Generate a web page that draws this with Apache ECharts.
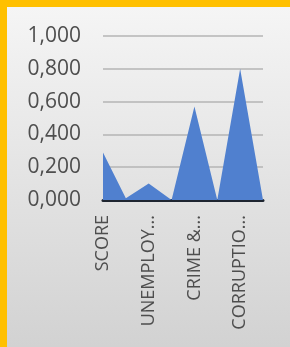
<!DOCTYPE html>
<html lang="en">
<head>
    <meta charset="UTF-8">
    <title>Area chart</title>
    <script src="https://cdn.jsdelivr.net/npm/echarts@6/dist/echarts.min.js"></script>
    <style>
        body { margin: 0; }
        #frame { position: relative; width: 290px; height: 347px; background: #ffc000; overflow: hidden; }
        #panel { position: absolute; left: 7px; top: 7px; right: 0; bottom: 0;
                 background: linear-gradient(#f5f5f5, #d2d2d2); }
        #main { position: absolute; left: 0; top: 0; width: 290px; height: 347px; }
    </style>
</head>
<body>
<div id="frame">
    <div id="panel"></div>
    <div id="main"></div>
</div>
<script type="text/javascript">
    // categories (only every other one is labelled in the original)
    var categories = ['SCORE', '', 'UNEMPLOY...', '', 'CRIME &...', '', 'CORRUPTIO...', ''];
    var values = [0.29, 0.01, 0.10, 0.0, 0.57, 0.0, 0.80, 0.0];
    var yTicks = [0, 0.2, 0.4, 0.6, 0.8, 1.0];

    var myChart = echarts.init(document.getElementById('main'));

    var option = {
        animation: false,
        grid: { left: 103, right: 27, top: 36, bottom: 147 },
        xAxis: {
            type: 'category',
            data: categories,
            boundaryGap: false,
            axisLine: { lineStyle: { color: '#1e2530', width: 3 } },
            axisTick: { show: false },
            axisLabel: {
                rotate: 90,
                interval: 0,
                margin: 15,
                color: '#4e4e4e',
                fontFamily: 'Open Sans',
                fontSize: 18
            }
        },
        yAxis: {
            type: 'value',
            min: yTicks[0],
            max: yTicks[yTicks.length - 1],
            interval: 0.2,
            axisLine: { show: false },
            axisTick: { show: false },
            splitLine: { lineStyle: { color: '#b4b4b4', width: 1.5 } },
            axisLabel: {
                margin: 22,
                color: '#4e4e4e',
                fontFamily: 'Open Sans',
                fontSize: 21,
                formatter: function (v) { return v.toFixed(3).replace('.', ','); }
            }
        },
        series: [{
            type: 'line',
            data: values,
            symbol: 'none',
            lineStyle: { width: 0 },
            areaStyle: { color: '#5080cf', opacity: 1 }
        }]
    };

    myChart.setOption(option);
</script>
</body>
</html>
